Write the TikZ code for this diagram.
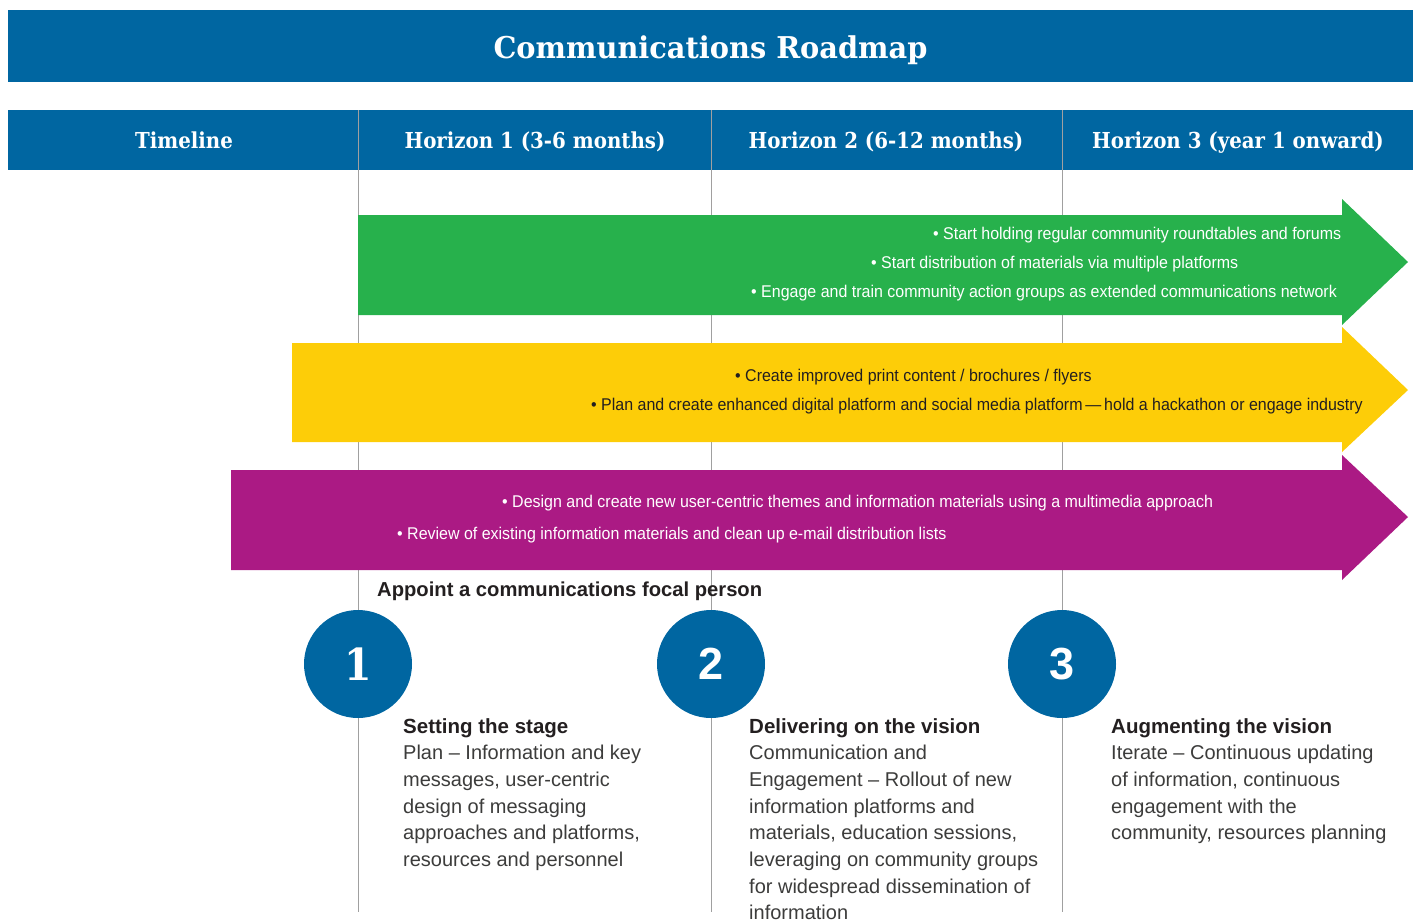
\documentclass[tikz,border=0pt]{standalone}
\usepackage{fontspec}
\setmainfont{Liberation Sans}
\newfontfamily\slabtitle[FakeStretch=0.96]{DejaVu Serif}
\newfontfamily\slab[FakeStretch=0.9]{DejaVu Serif}
\newfontfamily\narrow[FakeStretch=0.94]{Liberation Sans}
\definecolor{hblue}{HTML}{0066A1}
\definecolor{agreen}{HTML}{27B14C}
\definecolor{ayellow}{HTML}{FDCD08}
\definecolor{apurple}{HTML}{AB1A84}
\definecolor{gline}{HTML}{A0A0A0}
\definecolor{bodytxt}{HTML}{3C3C3B}
\definecolor{headtxt}{HTML}{231F20}
\newcommand{\blocktext}[1]{\parbox[t]{330pt}{\raggedright #1}}
\begin{document}
\begin{tikzpicture}[x=1pt,y=-1pt,
  titletxt/.style={anchor=base,text=white,inner sep=0,font=\slabtitle\bfseries\fontsize{30}{36}\selectfont},
  headtxt/.style={anchor=base,text=white,inner sep=0,font=\slab\bfseries\fontsize{22}{26}\selectfont},
  bartxt/.style={anchor=base west,inner sep=0,font=\narrow\fontsize{17}{20}\selectfont},
  numcircle/.style={circle,fill=hblue,minimum size=108pt,inner sep=0,text=white},
  blocktitle/.style={anchor=base west,inner sep=0,text=headtxt,font=\bfseries\fontsize{20.5}{26.7}\selectfont},
  blockbody/.style={anchor=base west,inner sep=0,text=bodytxt,font=\fontsize{20}{26.7}\selectfont},
  divider/.style={draw=gline,line width=1pt}
]
\useasboundingbox (0,0) rectangle (1421,919);
% title bar
\fill[hblue] (8,10) rectangle (1413,82);
\node[titletxt] (title) at (710.5,58) {Communications Roadmap};
% header bar
\fill[hblue] (8,110) rectangle (1413,170);
\coordinate (d1top) at (358,110); \coordinate (d1bot) at (358,912);
\coordinate (d2top) at (711,110); \coordinate (d2bot) at (711,912);
\coordinate (d3top) at (1062,110); \coordinate (d3bot) at (1062,912);
\draw[divider] (d1top) -- (d1bot);
\draw[divider] (d2top) -- (d2bot);
\draw[divider] (d3top) -- (d3bot);
\node[headtxt] (h0) at (184,148) {Timeline};
\node[headtxt] (h1) at (535,148) {Horizon 1 (3-6 months)};
\node[headtxt] (h2) at (886,148) {Horizon 2 (6-12 months)};
\node[headtxt] (h3) at (1238,148) {Horizon 3 (year 1 onward)};
% arrows
\fill[agreen] (358,215) -- (1342,215) -- (1342,199) -- (1408,262) -- (1342,325) -- (1342,315) -- (358,315) -- cycle;
\fill[ayellow] (292,343) -- (1342,343) -- (1342,327) -- (1408,390) -- (1342,452) -- (1342,442) -- (292,442) -- cycle;
\fill[apurple] (231,470) -- (1342,470) -- (1342,455) -- (1408,517) -- (1342,580) -- (1342,570) -- (231,570) -- cycle;
% arrow texts
\node[bartxt,text=white] (g1) at (933,239) {• Start holding regular community roundtables and forums};
\node[bartxt,text=white] (g2) at (871,268) {• Start distribution of materials via multiple platforms};
\node[bartxt,text=white] (g3) at (751,297) {• Engage and train community action groups as extended communications network};
\node[bartxt,text=headtxt] (y1) at (735,381) {• Create improved print content / brochures / flyers};
\node[bartxt,text=headtxt] (y2) at (591,410) {• Plan and create enhanced digital platform and social media platform\,—\,hold a hackathon or engage industry};
\node[bartxt,text=white] (p1) at (502,507) {• Design and create new user-centric themes and information materials using a multimedia approach};
\node[bartxt,text=white] (p2) at (397,539) {• Review of existing information materials and clean up e-mail distribution lists};
% focal person
\node[anchor=base west,inner sep=0,text=headtxt,font=\bfseries\fontsize{20.2}{24}\selectfont] (focal) at (377,596) {Appoint a communications focal person};
% circles
\node[numcircle,font=\slab\bfseries\fontsize{44}{50}\selectfont] (c1) at (358,664) {1};
\node[numcircle,font=\bfseries\fontsize{45}{50}\selectfont] (c2) at (711,664) {2};
\node[numcircle,font=\bfseries\fontsize{45}{50}\selectfont] (c3) at (1062,664) {3};
% blocks
\node[blocktitle] (t1) at (403,733) {Setting the stage};
\node[blockbody] (b1) at (403,759.7) {\blocktext{Plan – Information and key\\messages, user-centric\\design of messaging\\approaches and platforms,\\resources and personnel}};
\node[blocktitle] (t2) at (749,733) {Delivering on the vision};
\node[blockbody] (b2) at (749,759.7) {\blocktext{Communication and\\Engagement – Rollout of new\\information platforms and\\materials, education sessions,\\leveraging on community groups\\for widespread dissemination of\\information}};
\node[blocktitle] (t3) at (1111,733) {Augmenting the vision};
\node[blockbody] (b3) at (1111,759.7) {\blocktext{Iterate – Continuous updating\\of information, continuous\\engagement with the\\community, resources planning}};
\end{tikzpicture}
\end{document}
